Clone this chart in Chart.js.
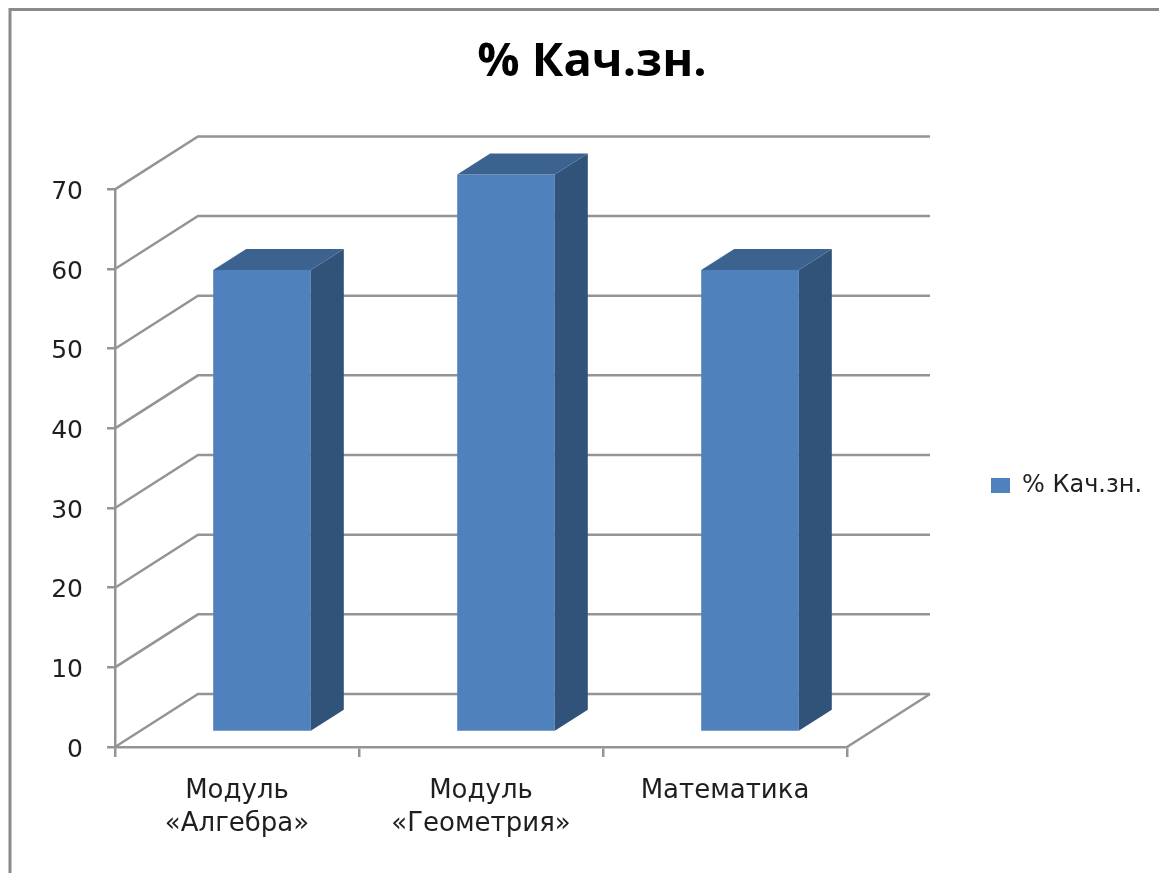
<!DOCTYPE html>
<html>
<head>
<meta charset="utf-8">
<script src="https://cdn.jsdelivr.net/npm/chart.js@4"></script>
<style>
  html, body { margin: 0; padding: 0; background: #fff; }
  canvas { display: block; filter: blur(0.5px); }
</style>
</head>
<body>
<canvas id="grafico" width="1159" height="873"></canvas>
<script>
const categorias = [["Модуль", "«Алгебра»"], ["Модуль", "«Геометрия»"], "Математика"];
const valores = [58, 70, 58];
const titulo = "% Кач.зн.";

const cinza = "#949494";
const fonte = "'DejaVu Sans'";

// perspective of the fake 3D box
const parede = { dx: 83, dy: -53 };
const frente = { dx: 25, dy: -15 };
const lado = { dx: 33, dy: -21 };

function poly(c, pts, fill) {
  c.beginPath();
  pts.forEach((p, i) => (i ? c.lineTo(p[0], p[1]) : c.moveTo(p[0], p[1])));
  c.closePath();
  c.fillStyle = fill;
  c.fill();
}

const caixa3d = {
  id: "caixa3d",
  beforeDraw(chart) {
    const c = chart.ctx;
    c.save();
    c.strokeStyle = "#8a8a8a";
    c.lineWidth = 3;
    c.beginPath();
    c.moveTo(10, 873);
    c.lineTo(10, 9.5);
    c.lineTo(1159, 9.5);
    c.stroke();
    c.restore();
  },
  afterLayout(chart) {
    // legend sits lower than the library would centre it
    const l = chart.legend;
    l.left = 981;
    l.top += 49;
    l.bottom += 49;
  },
  beforeDatasetsDraw(chart) {
    const c = chart.ctx;
    const { x, y } = chart.scales;
    const esq = x.left, dir = x.right;
    c.save();
    c.strokeStyle = cinza;
    c.lineWidth = 2.5;
    y.ticks.forEach((t) => {
      const py = y.getPixelForValue(t.value);
      c.beginPath();
      c.moveTo(esq, py);
      c.lineTo(esq + parede.dx, py + parede.dy);
      c.lineTo(dir + parede.dx, py + parede.dy);
      c.stroke();
    });
    const py0 = y.getPixelForValue(0);
    c.beginPath();
    c.moveTo(dir, py0);
    c.lineTo(dir + parede.dx, py0 + parede.dy);
    c.stroke();
    c.restore();

    c.save();
    c.translate(frente.dx, frente.dy);
  },
  afterDatasetsDraw(chart) {
    const c = chart.ctx;
    chart.getDatasetMeta(0).data.forEach((b) => {
      const l = b.x - b.width / 2, r = b.x + b.width / 2;
      poly(c, [[r, b.y], [r + lado.dx, b.y + lado.dy], [r + lado.dx, b.base + lado.dy], [r, b.base]], "#315279");
      poly(c, [[l, b.y], [l + lado.dx, b.y + lado.dy], [r + lado.dx, b.y + lado.dy], [r, b.y]], "#3c628f");
    });
    c.restore();
  },
};

new Chart(document.getElementById("grafico"), {
  type: "bar",
  plugins: [caixa3d],
  data: {
    labels: categorias,
    datasets: [
      {
        label: titulo,
        data: valores,
        backgroundColor: "#4f81bd",
        barPercentage: 1,
        categoryPercentage: 0.4,
        clip: false,
      },
    ],
  },
  options: {
    responsive: false,
    animation: false,
    layout: { padding: { left: 35, right: 10, top: 0, bottom: 0 } },
    plugins: {
      tooltip: { enabled: false },
      title: {
        display: true,
        text: titulo,
        color: "#000",
        font: { family: "'Open Sans'", size: 47, weight: "bold", lineHeight: 1.2 },
        padding: { top: 34, bottom: 99 },
      },
      legend: {
        position: "right",
        labels: {
          boxWidth: 19,
          boxHeight: 15,
          color: "#1f1f1f",
          font: { family: fonte, size: 24 },
        },
      },
    },
    scales: {
      x: {
        grid: { drawOnChartArea: false, color: cinza, lineWidth: 2.5, tickLength: 10 },
        border: { color: cinza, width: 2.5 },
        ticks: {
          color: "#1f1f1f",
          padding: 17,
          maxRotation: 0,
          font: { family: fonte, size: 26, lineHeight: 1.3 },
        },
        afterFit(a) {
          a.height = 126;
        },
      },
      y: {
        min: 0,
        max: 70,
        grid: { drawOnChartArea: false, color: cinza, lineWidth: 2.5, tickLength: 8 },
        border: { color: cinza, width: 2.5 },
        ticks: {
          stepSize: 10,
          color: "#1f1f1f",
          padding: 24,
          labelOffset: 3,
          font: { family: fonte, size: 25 },
        },
        afterFit(a) {
          a.width = 80;
        },
      },
      reserva: {
        position: "right",
        grid: { display: false },
        border: { display: false },
        ticks: { display: false },
        afterFit(a) {
          a.width = 1149 - 847 - a.chart.legend.width;
        },
      },
    },
  },
});
</script>
</body>
</html>
